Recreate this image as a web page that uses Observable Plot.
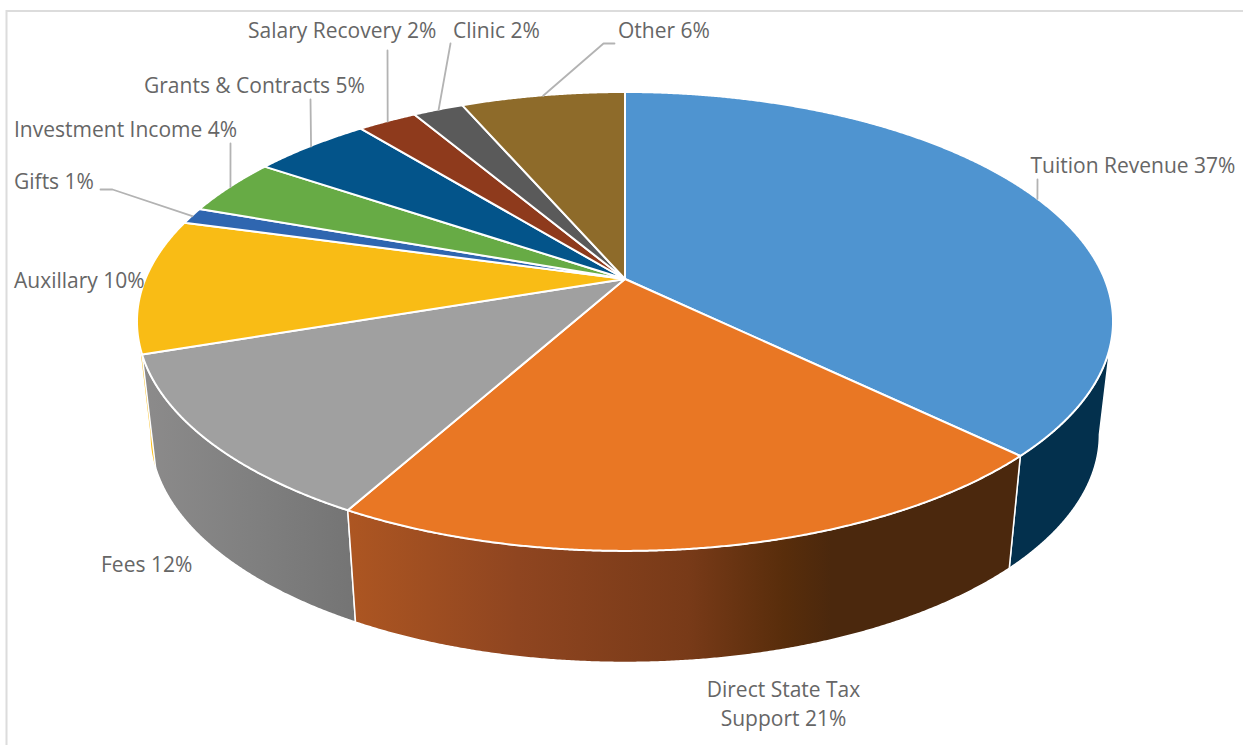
<!DOCTYPE html>
<html>
<head>
<meta charset="utf-8">
<script src="https://cdn.jsdelivr.net/npm/d3@7"></script>
<script src="https://cdn.jsdelivr.net/npm/@observablehq/plot@0.6"></script>
<style>
  html, body { margin: 0; padding: 0; background: #fff; }
  svg { display: block; }
</style>
</head>
<body>
<div id="chart"></div>
<script>
// --- data ---
const names = ["Tuition Revenue", "Direct State Tax Support", "Fees", "Auxillary", "Gifts",
               "Investment Income", "Grants & Contracts", "Salary Recovery", "Clinic", "Other"];
const shares = [37.25, 20.8, 11.75, 9.5, 1.15, 4.0, 4.7, 2.35, 2.0, 6.5];
const printed = [37, 21, 12, 10, 1, 4, 5, 2, 2, 6];

// --- styling ---
const topColors = ["#4F94D0", "#E97724", "#A0A0A0", "#F9BC15", "#2F66B0",
                   "#67AB45", "#03548A", "#8E3A1C", "#5A5A5A", "#8E6B2A"];
const wallFills = {
  "Tuition Revenue": "#03304D",
  "Auxillary": "#F9BC15",
  "Fees": "url(#wallFees)",
  "Direct State Tax Support": "url(#wallDirect)"
};

// --- layout: the tilted disc (a perspective view of a circle) ---
const W = 1243, H = 745;
const disc = {cx: 625, cy: 279, f: 479.6, g: 221.6, k: 0.185};
const base = {y0: 392.5, f: 466.2, g: 220};
const turnOf = s => s / 100 * 2 * Math.PI;
const project = (theta, p) => {
  const X = Math.sin(theta), Y = -Math.cos(theta), d = 1 - disc.k * Y;
  return p === "base"
    ? [disc.cx + base.f * X / d, base.y0 + base.g * Y / d]
    : [disc.cx + disc.f * X / d, disc.cy + disc.g * Y / d];
};

// --- slices derived from the shares ---
let cum = 0;
const slices = names.map((name, i) => {
  const start = cum; cum += shares[i];
  return {name, start: turnOf(start), end: turnOf(cum), mid: turnOf(start + shares[i] / 2)};
});
const sweep = (a, b) => {
  const n = Math.max(2, Math.ceil((b - a) / 0.004));
  return d3.range(n + 1).map(i => a + (b - a) * i / n);
};
const topRows = slices.flatMap(s => sweep(s.start, s.end).map(t => {
  const [x, y] = project(t, "top");
  return {name: s.name, x, y, ax: disc.cx, ay: disc.cy};
}));
const visA = Math.acos(-disc.k), visB = 2 * Math.PI - visA;
const wallRows = slices.flatMap(s => {
  const a = Math.max(s.start, visA), b = Math.min(s.end, visB);
  if (b <= a) return [];
  return sweep(a, b).map(t => {
    const [x, y] = project(t, "top"), [bx, by] = project(t, "base");
    return {name: s.name, x, y, bx, by};
  });
});

// --- labels ---
const labelSpots = [
  {x: 1030, y: 163},
  {x: 783, y: 702},
  {x: 100.5, y: 562},
  {x: 13.5, y: 278},
  {x: 13.5, y: 179},
  {x: 13.5, y: 127},
  {x: 143.5, y: 83},
  {x: 247.5, y: 28},
  {x: 452.5, y: 28},
  {x: 617.5, y: 28}
];
const labelRows = names.map((n, i) => ({
  name: n,
  text: (n === "Direct State Tax Support" ? "Direct State Tax\nSupport" : n) + " " + printed[i] + "%",
  ...labelSpots[i]
}));
const leaderElbows = {
  "Tuition Revenue": [[1037, 179]],
  "Gifts": [[100, 189], [112, 189]],
  "Investment Income": [[230, 143]],
  "Grants & Contracts": [[310, 99]],
  "Salary Recovery": [[387, 50]],
  "Clinic": [[450, 43]],
  "Other": [[614, 43], [603, 43]]
};
const leaderRows = slices.filter(s => leaderElbows[s.name]).flatMap(s => {
  const [ex, ey] = project(s.mid, "top");
  return [...leaderElbows[s.name], [ex, ey]].map(([x, y]) => ({name: s.name, x, y}));
});

const defs = () => {
  const d = d3.create("svg:defs");
  const grad = (id, x1, x2, stops) => {
    const g = d.append("linearGradient").attr("id", id)
      .attr("gradientUnits", "userSpaceOnUse")
      .attr("x1", x1).attr("x2", x2).attr("y1", 0).attr("y2", 0);
    stops.forEach(([o, c]) => g.append("stop").attr("offset", o).attr("stop-color", c));
  };
  grad("wallFees", 143, 356, [[0, "#8C8B8B"], [0.5, "#808080"], [1, "#747474"]]);
  grad("wallDirect", 348, 1010, [[0, "#AD5622"], [0.257, "#8F4520"], [0.514, "#783A18"],
                                  [0.66, "#582D0B"], [0.73, "#4B280D"], [1, "#4B280D"]]);
  return d.node();
};

const wallMarks = ["Tuition Revenue", "Auxillary", "Fees", "Direct State Tax Support"].map(n =>
  Plot.area(wallRows.filter(r => r.name === n), {
    x1: "x", y1: "y", x2: "bx", y2: "by",
    fill: wallFills[n], stroke: n === "Auxillary" ? "none" : "#fff", strokeWidth: 1.5
  }));

const textStyle = {
  x: "x", y: "y", text: "text", lineAnchor: "middle",
  lineHeight: 1.38, fill: "#666666", fontSize: 21, fontFamily: "'Open Sans', sans-serif"
};

const chart = Plot.plot({
  width: W, height: H,
  margin: 0,
  style: {background: "#fff"},
  x: {domain: [0, W], range: [0, W], axis: null},
  y: {domain: [0, H], range: [0, H], axis: null},
  color: {type: "ordinal", domain: names, range: topColors},
  marks: [
    defs,
    Plot.ruleY([10.5], {x1: 6, x2: W, stroke: "#DCDCDC", strokeWidth: 2}),
    Plot.ruleX([6], {y1: 10, y2: H, stroke: "#DCDCDC", strokeWidth: 2}),
    ...wallMarks,
    Plot.area(topRows, {
      x1: "ax", y1: "ay", x2: "x", y2: "y", z: "name",
      fill: "name", stroke: "#fff", strokeWidth: 2, strokeLinejoin: "round"
    }),
    Plot.line(leaderRows, {x: "x", y: "y", z: "name", stroke: "#B3B3B3", strokeWidth: 1.8, curve: "linear"}),
    Plot.text(labelRows.filter(r => r.name !== "Direct State Tax Support"), {...textStyle, textAnchor: "start"}),
    Plot.text(labelRows.filter(r => r.name === "Direct State Tax Support"), {...textStyle, textAnchor: "middle"})
  ]
});
document.getElementById("chart").append(chart);
</script>
</body>
</html>
